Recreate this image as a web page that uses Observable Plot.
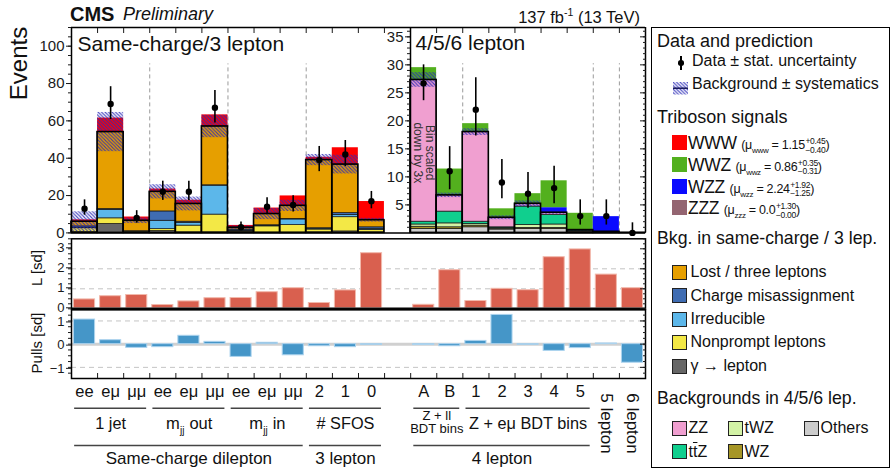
<!DOCTYPE html>
<html><head><meta charset="utf-8">
<script src="https://cdn.jsdelivr.net/npm/d3@7"></script>
<script src="https://cdn.jsdelivr.net/npm/@observablehq/plot@0.6"></script>
<style>
body{margin:0;background:#fff;}
#root{position:relative;width:892px;height:472px;overflow:hidden;font-family:"Liberation Sans",Arimo,Arial,Helvetica,sans-serif;color:#111;}
.t{position:absolute;white-space:nowrap;line-height:1;}
.sw{position:absolute;box-sizing:border-box;}
.pm{display:inline-block;vertical-align:-0.45em;font-size:8.5px;line-height:1.05;margin-left:0.5px;}
.pm span{display:block;}
.sb{font-size:8px;vertical-align:-4px;}
</style></head><body>
<svg width="0" height="0" style="position:absolute"><defs>
<pattern id="bkgHatch" patternUnits="userSpaceOnUse" width="3.5" height="3.5">
<path d="M-1,-1 L4.5,4.5 M-1,2.5 L1,4.5 M2.5,-1 L4.5,1" stroke="#2a2ab8" stroke-width="1.1" stroke-opacity="0.85"/>
</pattern></defs></svg>
<div id="root"></div>
<script>
// ---------------- DATA ----------------
// Same-charge / 3 lepton bins
const leftBins = ["ee","eμ","μμ","ee","eμ","μμ","ee","eμ","μμ","2","1","0"];
const scGammaLepton = [0.5, 4.8, 0.2, 1.0, 0.3, 0.3, 0.5, 0.2, 0.2, 0.3, 0.8, 0.3];
const scNonprompt   = [2.0, 3.0, 0.5, 1.0, 3.6, 9.5, 0.3, 3.3, 4.0, 1.5, 7.6, 1.3];
const scIrreducible = [0.3, 4.5, 0.1, 4.5, 1.5, 15.5, 0.4, 0.3, 3.0, 0.5, 1.2, 0.6];
const scChargeMis   = [0.7, 0.5, 0.1, 5.0, 0.6, 0.2, 0.6, 0.3, 0.3, 0.2, 1.0, 0.8];
const scLost        = [2.5, 41.2, 5.6, 10.5, 9.5, 31.5, 1.0, 6.0, 7.0, 36.5, 26.0, 3.8];
const scWWW         = [1.0, 7.5, 2.0, 1.5, 2.0, 6.2, 1.2, 3.2, 5.3, 1.5, 9.0, 10.0];
const scBkgSyst     = [5.3, 10.5, 1.5, 3.8, 3.7, 6.0, 1.0, 3.0, 3.0, 3.0, 5.0, 1.0];
const scData        = [13, 69, 8, 22, 22, 67, 3, 14, 15, 39, 42, 17];
const scDataErrLo   = [3.5, 8.3, 2.8, 4.6, 4.6, 8.2, 1.6, 3.7, 3.8, 6.2, 6.5, 4.1];
const scDataErrHi   = [4.7, 9.3, 3.9, 5.7, 5.7, 9.2, 2.9, 4.8, 4.9, 7.3, 7.5, 5.2];

// 4/5/6 lepton bins
const rightBins = ["A","B","1","2","3","4","5","5 lepton","6 lepton"];
const fourOthers  = [0.7, 0.7, 1.0, 0.6, 0.7, 0.7, 0.2, 0.05, 0.0];
const fourWZ      = [0.4, 0.3, 0.3, 0.15, 0.2, 0.2, 0.05, 0.0, 0.0];
const fourTWZ     = [0.4, 0.7, 0.3, 0.15, 0.5, 0.6, 0.1, 0.05, 0.0];
const fourTTZ     = [0.5, 2.1, 0.4, 0.1, 3.3, 1.7, 0.1, 0.05, 0.0];
const fourZZ      = [25.3, 2.9, 16.0, 1.7, 0.5, 0.4, 0.05, 0.05, 0.02];
const fourWZZ     = [0, 0, 0, 0, 0, 0.9, 0, 2.7, 0];
const fourWWZ     = [2.2, 4.7, 1.5, 1.6, 1.8, 4.8, 3.0, 0, 0];
const fourBkgSyst = [1.3, 0.4, 0.6, 0.35, 0.5, 0.3, 0.1, 0.05, 0.01];
const fourData      = [26.7, 11, 22, 9, 7, 8, 3, 3, 0];
const fourDataErrLo = [3.1, 3.3, 4.7, 2.9, 2.6, 2.8, 1.6, 1.6, 0];
const fourDataErrHi = [3.3, 4.4, 5.7, 4.1, 3.8, 3.9, 2.9, 2.9, 1.8];

// lower panels (21 bins, same order)
const likelihoodSd = [0.47,0.63,0.69,0.19,0.37,0.53,0.54,0.83,1.03,0.29,0.92,2.78, 0.2,1.93,0.39,1.0,0.93,2.58,2.97,1.71,1.03];
const pullsSd = [1.06,0.17,-0.16,-0.13,0.36,0.10,-0.55,0.06,-0.48,-0.09,-0.13,-0.03, -0.04,-0.09,0.14,1.26,-0.03,-0.29,-0.17,0.03,-0.8];

// category groups (slot ranges)
const level1Labels = ["1 jet","m_jj out","m_jj in","# SFOS","Z + ll\nBDT bins","Z + eμ BDT bins"];
const level1Ranges = [[0,3],[3,6],[6,9],[9,12],[13,15],[15,20]];
const level2Labels = ["Same-charge dilepton","3 lepton","4 lepton"];
const level2Ranges = [[0,9],[9,12],[13,20]];
const leftSeparators = [3, 6, 9];
const rightSeparators = [15, 20, 21];

// ---------------- STYLE ----------------
const FONT = '"Liberation Sans", Arimo, Arial, Helvetica, sans-serif';
const COL = {gamma:"#666666", nonprompt:"#f3e846", irreducible:"#5cb7ea", charge:"#3f6cb2", lost:"#e69f00",
  www:"#ff0000", wwz:"#53b01e", wzz:"#0a0aff", zzz:"#946571",
  zz:"#f09fd0", twz:"#d3f3a6", others:"#cccccc", ttz:"#10cf8e", wz:"#a69626"};
const W = 650, H = 472;
const root = document.getElementById("root");
const baseStyle = {position:"absolute", left:"0px", top:"0px", background:"none", overflow:"visible",
  fontFamily: FONT, fontSize:"15px", color:"#1a1a1a"};
const smallStyle = {...baseStyle, fontSize: "13px"};
const slotOf = i => i < 12 ? i : i + 1;
const blank = () => "";
const plain = d => String(d);
const minus = d => d < 0 ? "−" + Math.abs(d) : String(d);

function buildPanel(n, offset, bkgSeries, sigSeries, syst, obs, lo, hi) {
  const bkg = [], sig = [], band = [], total = [], points = [];
  for (let i = 0; i < n; i++) {
    const x1 = offset + i, x2 = offset + i + 1;
    let cum = 0;
    for (const s of bkgSeries) { const v = s[0][i]; if (v > 0) bkg.push({x1, x2, y1: cum, y2: cum + v, color: s[1]}); cum += v; }
    const tot = cum;
    for (const s of sigSeries) { const v = s[0][i]; if (v > 0) sig.push({x1, x2, y1: cum, y2: cum + v, color: s[1]}); cum += v; }
    total.push({x1, x2, y: tot});
    band.push({x1, x2, y1: Math.max(0, tot - syst[i]), y2: tot + syst[i]});
    points.push({x: offset + i + 0.5, y: obs[i], y1: Math.max(0, obs[i] - lo[i]), y2: obs[i] + hi[i]});
  }
  return {bkg, sig, band, total, points};
}

const PL = buildPanel(12, 0,
  [[scGammaLepton, COL.gamma],[scNonprompt, COL.nonprompt],[scIrreducible, COL.irreducible],[scChargeMis, COL.charge],[scLost, COL.lost]],
  [[scWWW, COL.www]], scBkgSyst, scData, scDataErrLo, scDataErrHi);
const PR = buildPanel(9, 13,
  [[fourOthers, COL.others],[fourWZ, COL.wz],[fourTWZ, COL.twz],[fourTTZ, COL.ttz],[fourZZ, COL.zz]],
  [[fourWZZ, COL.wzz],[fourWWZ, COL.wwz]], fourBkgSyst, fourData, fourDataErrLo, fourDataErrHi);

function stackMarks(P) {
  return [
    Plot.rect(P.bkg, {x1:"x1", x2:"x2", y1:"y1", y2:"y2", fill:"color", stroke:"#151515", strokeWidth:0.7}),
    Plot.rect(P.sig, {x1:"x1", x2:"x2", y1:"y1", y2:"y2", fill:"color"}),
    Plot.rect(P.band, {x1:"x1", x2:"x2", y1:"y1", y2:"y2", fill:"url(#bkgHatch)"}),
    Plot.rect(P.total, {x1:"x1", x2:"x2", y1:0, y2:"y", fill:"none", stroke:"#000", strokeWidth:1.6}),
    Plot.ruleX(P.points, {x:"x", y1:"y1", y2:"y2", stroke:"#000", strokeWidth:1.6}),
    Plot.dot(P.points, {x:"x", y:"y", r:3.2, fill:"#000", stroke:"none"})
  ];
}

// ---------------- TOP LEFT ----------------
const tl = Plot.plot({
  width: W, height: H, marginLeft: 71, marginRight: W - 410, marginTop: 27, marginBottom: H - 232.4,
  x: {domain: [0, 13], axis: null}, y: {domain: [0, 110], axis: null}, color: {type: "identity"},
  style: baseStyle,
  marks: [
    Plot.ruleX(leftSeparators, {y1: 0, y2: 90.5, stroke:"#9a9a9a", strokeDasharray:"4,3"}),
    ...stackMarks(PL),
    Plot.ruleY([0, 110], {x1: 0, x2: 13, stroke:"#000", strokeWidth:1.5}),
    Plot.ruleX([0], {stroke:"#000", strokeWidth:1.5}),
    Plot.axisY({ticks: d3.range(0, 101, 20), tickSize: 5, tickPadding: 2, tickFormat: plain, label: null}),
    Plot.axisY({ticks: d3.range(0, 111, 5), tickSize: 3, tickFormat: blank, label: null}),
    Plot.axisX({anchor: "top", ticks: d3.range(1, 13), tickSize: -5, tickFormat: blank, label: null}),
    Plot.text(["Same-charge/3 lepton"], {frameAnchor: "top-left", dx: 6, dy: 9, lineAnchor: "top", fontSize: 21, fill: "#111"})
  ]
});
root.appendChild(tl);

// ---------------- TOP RIGHT ----------------
const tr = Plot.plot({
  width: W, height: H, marginLeft: 410, marginRight: W - 645, marginTop: 27, marginBottom: H - 232.4,
  x: {domain: [13, 22], axis: null}, y: {domain: [0, 110 / 3], axis: null}, color: {type: "identity"},
  style: baseStyle,
  marks: [
    Plot.ruleX(rightSeparators, {y1: 0, y2: 30.2, stroke:"#9a9a9a", strokeDasharray:"4,3"}),
    ...stackMarks(PR),
    Plot.text(["Bin scaled\ndown by 3x"], {x: 13.5, y: 14.3, rotate: 90, fontSize: 12, fill: "#333", lineAnchor: "middle", lineHeight: 1}),
    Plot.ruleY([0, 110 / 3], {x1: 13, x2: 22, stroke:"#000", strokeWidth:1.5}),
    Plot.ruleX([13, 22], {stroke:"#000", strokeWidth:1.5}),
    Plot.axisY({anchor: "left", ticks: d3.range(5, 36, 5), tickSize: 5, tickPadding: 2, tickFormat: plain, label: null}),
    Plot.axisY({anchor: "left", ticks: d3.range(1, 37), tickSize: 3, tickFormat: blank, label: null}),
    Plot.axisY({anchor: "right", ticks: d3.range(5, 36, 5), tickSize: -6, tickFormat: blank, label: null}),
    Plot.axisY({anchor: "right", ticks: d3.range(1, 37), tickSize: -3, tickFormat: blank, label: null}),
    Plot.axisX({anchor: "top", ticks: d3.range(14, 22), tickSize: -5, tickFormat: blank, label: null}),
    Plot.text(["4/5/6 lepton"], {frameAnchor: "top-left", dx: 5, dy: 8, lineAnchor: "top", fontSize: 21, fill: "#111"})
  ]
});
root.appendChild(tr);

// ---------------- LIKELIHOOD PANEL ----------------
const lRows = likelihoodSd.map((v, i) => ({slot: slotOf(i), v}));
const pRows = pullsSd.map((v, i) => ({slot: slotOf(i), v}));

const lp = Plot.plot({
  width: W, height: H, marginLeft: 71, marginRight: 5, marginTop: 238.3, marginBottom: H - 308.3,
  x: {domain: [0, 22], axis: null}, y: {domain: [0, 3.5], axis: null},
  style: smallStyle,
  marks: [
    Plot.ruleY([1, 2], {stroke:"#c4c4c4", strokeDasharray:"5,4"}),
    Plot.rect(lRows, {x1: "slot", x2: d => d.slot + 1, y1: 0, y2: "v", insetLeft: 2.5, insetRight: 2.5, fill:"#d9604f", stroke:"#f2b9ac", strokeWidth: 1}),
    Plot.ruleY([0], {stroke:"#555", strokeWidth: 3}),
    Plot.frame({stroke:"#000", strokeWidth: 1.5}),
    Plot.axisY({ticks: [0, 1, 2, 3], tickSize: 5, tickPadding: 2, tickFormat: plain, label: null, dy: -1}),
    Plot.axisY({ticks: d3.range(0, 3.51, 0.25), tickSize: 3, tickFormat: blank, label: null}),
    Plot.axisY({anchor: "right", ticks: [0, 1, 2, 3], tickSize: -6, tickFormat: blank, label: null}),
    Plot.axisY({anchor: "right", ticks: d3.range(0, 3.51, 0.25), tickSize: -3, tickFormat: blank, label: null})
  ]
});
root.appendChild(lp);

// ---------------- PULLS PANEL ----------------
const pp = Plot.plot({
  width: W, height: H, marginLeft: 71, marginRight: 5, marginTop: 309.3, marginBottom: H - 378,
  x: {domain: [0, 22], axis: null}, y: {domain: [-1.48, 1.48], axis: null},
  style: smallStyle,
  marks: [
    Plot.ruleY([-1, 1], {stroke:"#c4c4c4", strokeDasharray:"5,4"}),
    Plot.ruleY([0], {stroke:"#d0d0d0", strokeWidth: 3}),
    Plot.rect(pRows, {x1: "slot", x2: d => d.slot + 1, y1: 0, y2: "v", insetLeft: 2.5, insetRight: 2.5, fill:"#4596c8", stroke:"#acd3ee", strokeWidth: 1}),
    Plot.frame({stroke:"#000", strokeWidth: 1.5}),
    Plot.axisY({ticks: [-1, 0, 1], tickSize: 5, tickPadding: 2, tickFormat: minus, label: null, dy: 1}),
    Plot.axisY({ticks: d3.range(-1.25, 1.3, 0.25), tickSize: 3, tickFormat: blank, label: null}),
    Plot.axisY({anchor: "right", ticks: [-1, 0, 1], tickSize: -6, tickFormat: blank, label: null}),
    Plot.axisY({anchor: "right", ticks: d3.range(-1.25, 1.3, 0.25), tickSize: -3, tickFormat: blank, label: null}),
    Plot.axisX({anchor: "bottom", ticks: d3.range(1, 22), tickSize: -5, tickFormat: blank, label: null})
  ]
});
root.appendChild(pp);

// ---------------- CATEGORY LABELS ----------------
const binRows = [...leftBins, ...rightBins].map((label, i) => ({slot: slotOf(i), label}));
const g1 = level1Labels.map((label, i) => ({label, a: level1Ranges[i][0], b: level1Ranges[i][1], c: (level1Ranges[i][0] + level1Ranges[i][1]) / 2}));
const g2 = level2Labels.map((label, i) => ({label, a: level2Ranges[i][0], b: level2Ranges[i][1], c: (level2Ranges[i][0] + level2Ranges[i][1]) / 2}));
const g1plain = g1.filter(d => !d.label.startsWith("m_") && !d.label.includes("\n"));
const g1multi = g1.filter(d => d.label.includes("\n"));
const g1out = g1.filter(d => d.label === "m_jj out");
const g1in = g1.filter(d => d.label === "m_jj in");
const rest = d => d.label.replace("m_jj ", "");

function mjjMarks(rows, start) {
  return [
    Plot.text(rows, {x: "c", y: 50.8, text: () => "m", textAnchor: "start", dx: start, lineAnchor: "bottom", fontSize: 16.5, fill: "#111"}),
    Plot.text(rows, {x: "c", y: 55.3, text: () => "jj", textAnchor: "start", dx: start + 14, lineAnchor: "bottom", fontSize: 10, fill: "#111"}),
    Plot.text(rows, {x: "c", y: 50.8, text: rest, textAnchor: "start", dx: start + 23.5, lineAnchor: "bottom", fontSize: 16.5, fill: "#111"})
  ];
}

const lab = Plot.plot({
  width: W, height: H, marginLeft: 71, marginRight: 5, marginTop: 378, marginBottom: 0,
  x: {domain: [0, 22], axis: null}, y: {domain: [0, 94], range: [378, 472], axis: null},
  style: baseStyle,
  marks: [
    Plot.text(binRows.filter(d => !d.label.includes("lepton")), {x: d => d.slot + 0.5, y: 18.7, text: "label", lineAnchor: "bottom", fontSize: 16.5, fill: "#111"}),
    Plot.text(binRows.filter(d => d.label.includes("lepton")), {x: d => d.slot + 0.5, y: 45, text: "label", rotate: 90, lineAnchor: "middle", fontSize: 17, fill: "#111"}),
    Plot.ruleY(g1, {x1: d => d.a + 0.12, x2: d => d.b - 0.12, y: 29.7, stroke: "#444", strokeWidth: 1.5}),
    Plot.ruleY(g2, {x1: d => d.a + 0.12, x2: d => d.b - 0.12, y: 67, stroke: "#444", strokeWidth: 1.5}),
    Plot.text(g1plain, {x: "c", y: 50.8, text: "label", lineAnchor: "bottom", fontSize: 16.3, fill: "#111"}),
    Plot.text(g1multi, {x: "c", y: 54.7, text: "label", lineAnchor: "bottom", fontSize: 13, lineHeight: 1.05, fill: "#111"}),
    ...mjjMarks(g1out, -23),
    ...mjjMarks(g1in, -18),
    Plot.text(g2, {x: "c", y: 85, text: "label", lineAnchor: "bottom", fontSize: 17, fill: "#111"})
  ]
});
root.appendChild(lab);

// ---------------- HTML TEXT / LEGEND ----------------
function addText(html, x, baseline, size, extra = "") {
  const d = document.createElement("div");
  d.className = "t";
  d.style.cssText = `left:${x}px;top:${baseline - 0.8465 * size}px;font-size:${size}px;${extra}`;
  d.innerHTML = html;
  root.appendChild(d);
  return d;
}
function addRot(text, baselineX, centerY, size) {
  const d = document.createElement("div");
  d.className = "t";
  d.style.cssText = `left:0px;top:0px;font-size:${size}px;transform-origin:0 0;`;
  d.textContent = text;
  root.appendChild(d);
  const w = d.getBoundingClientRect().width;
  d.style.transform = `translate(${baselineX - 0.8465 * size}px, ${centerY + w / 2}px) rotate(-90deg)`;
}
function addBox(x, y, w, h, css) {
  const d = document.createElement("div");
  d.className = "sw";
  d.style.cssText = `left:${x}px;top:${y}px;width:${w}px;height:${h}px;${css}`;
  root.appendChild(d);
  return d;
}

// header
addText("CMS", 70, 20.5, 20, "font-weight:bold;");
addText("Preliminary", 123, 20.5, 18, "font-style:italic;");
const lumi = addText("137 fb<sup style='font-size:10.5px;vertical-align:6.5px'>-1</sup> (13 TeV)", 0, 20.5, 16.5, "");
lumi.style.left = "auto"; lumi.style.right = (892 - 640) + "px";

// axis titles
addRot("Events", 27.5, 63.5, 24);
addRot("L [sd]", 42, 268, 15);
addRot("Pulls [sd]", 42, 343, 15);

// legend frame
addBox(651, 26.5, 239, 441, "border:1.5px solid #000;");

addText("Data and prediction", 657, 47, 18);
addBox(680.3, 56, 1.6, 14, "background:#000;");
addBox(678.3, 60.3, 5.6, 5.6, "background:#000;border-radius:50%;");
addText("Data ± stat. uncertainty", 692, 67, 16);
const hs = addBox(673, 80.5, 15, 12.5, "");
hs.innerHTML = '<svg width="15" height="12.5"><rect width="15" height="12.5" fill="url(#bkgHatch)"/><line x1="0" x2="15" y1="6.25" y2="6.25" stroke="#1a1a60" stroke-width="1.6"/></svg>';
addText("Background ± systematics", 692, 89.5, 16);

addText("Triboson signals", 657, 123.5, 18);
const sigLegend = [
  ["WWW", COL.www, "1.15", "+0.45", "−0.40", 142.5],
  ["WWZ", COL.wwz, "0.86", "+0.35", "−0.31", 164],
  ["WZZ", COL.wzz, "2.24", "+1.92", "−1.25", 186],
  ["ZZZ", COL.zzz, "0.0", "+1.30", "−0.00", 207.5]
];
for (const [name, color, mu, up, dn, cy] of sigLegend) {
  addBox(672, cy - 7.5, 14.5, 15, `background:${color};`);
  addText(`${name} <span style="font-size:12.5px">(μ<span class="sb">${name.toLowerCase()}</span> = ${mu}<span class="pm"><span>${up}</span><span>${dn}</span></span>)</span>`,
    688, cy + 7.5, 17.5, "letter-spacing:-0.3px;");
}

addText("Bkg. in same-charge / 3 lep.", 657, 245, 17.7);
const bkgLegend = [
  ["Lost / three leptons", COL.lost, 272],
  ["Charge misassignment", COL.charge, 295.5],
  ["Irreducible", COL.irreducible, 319],
  ["Nonprompt leptons", COL.nonprompt, 342],
  ["γ → lepton", COL.gamma, 366]
];
for (const [name, color, cy] of bkgLegend) {
  addBox(672, cy - 7.5, 15, 15, `background:${color};border:1px solid #222;`);
  addText(name, 690.5, cy + 5.6, 16);
}

addText("Backgrounds in 4/5/6 lep.", 657, 405, 17.7);
const fourLegend = [
  ["ZZ", COL.zz, 672, 428],
  ["tWZ", COL.twz, 728, 428],
  ["Others", COL.others, 804, 428],
  ["t<span style='text-decoration:overline'>t</span>Z", COL.ttz, 672, 451.5],
  ["WZ", COL.wz, 728, 451.5]
];
for (const [name, color, x, cy] of fourLegend) {
  addBox(x, cy - 7.5, 15, 15, `background:${color};border:1px solid #222;`);
  addText(name, x + 16.5, cy + 5.6, 16);
}
</script></body></html>
